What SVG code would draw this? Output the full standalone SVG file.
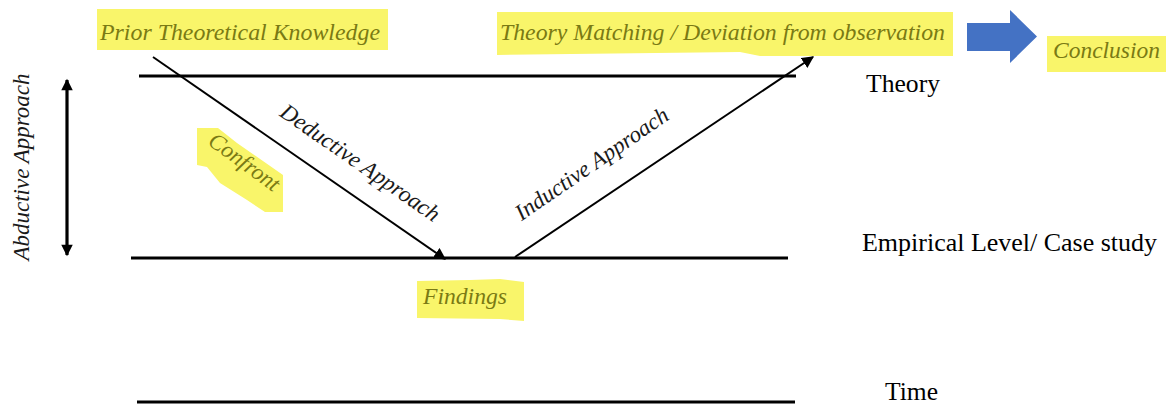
<svg xmlns="http://www.w3.org/2000/svg" width="1166" height="405" viewBox="0 0 1166 405">
<style>
.hl{fill:#f9f56a;}
.ol{font-family:"Liberation Serif",serif;font-style:italic;fill:#7a7a14;font-size:23px;}
.bk{font-family:"Liberation Serif",serif;font-style:italic;fill:#1a1a1a;font-size:23px;}
.rm{font-family:"Liberation Serif",serif;fill:#000;font-size:25px;}
.lvl{stroke:#000;stroke-width:3.2;fill:none;}
.diag{stroke:#000;stroke-width:2;fill:none;}
</style>
<defs>
<marker id="ah" viewBox="0 0 10 10" refX="9" refY="5" markerWidth="6" markerHeight="6" markerUnits="strokeWidth" orient="auto">
<path d="M0,0 L10,5 L0,10 z" fill="#000"/>
</marker>
<marker id="ah2" viewBox="0 0 10 10" refX="9" refY="5" markerWidth="4" markerHeight="3.6" markerUnits="strokeWidth" orient="auto-start-reverse">
<path d="M0,0 L10,5 L0,10 z" fill="#000"/>
</marker>
</defs>

<g id="connectors">
<line class="lvl" x1="139" y1="76" x2="796" y2="76"/>
<line class="lvl" x1="131" y1="258" x2="788" y2="258"/>
<line class="lvl" x1="137" y1="402" x2="795" y2="402"/>
<line class="diag" x1="153" y1="57" x2="445" y2="259" marker-end="url(#ah)"/>
<line class="diag" x1="515" y1="257" x2="813" y2="57" marker-end="url(#ah)"/>
<line class="lvl" x1="67" y1="80" x2="67" y2="255" marker-start="url(#ah2)" marker-end="url(#ah2)"/>
<path d="M967,23 L1010,23 L1010,10 L1037,36.5 L1010,63 L1010,51 L967,51 z" fill="#4472c4"/>
</g>

<g id="prior">
<rect class="hl" x="97" y="9" width="291" height="41"/>
<text class="ol" x="100" y="40" textLength="280" lengthAdjust="spacingAndGlyphs">Prior Theoretical Knowledge</text>
</g>

<g id="matching">
<path class="hl" d="M497,12 L953,12 L953,56 L760,56 L740,52 L497,55 z"/>
<text class="ol" x="500" y="40" textLength="445" lengthAdjust="spacingAndGlyphs">Theory Matching / Deviation from observation</text>
</g>

<g id="conclusion">
<rect class="hl" x="1047" y="36" width="119" height="36"/>
<text class="ol" x="1053" y="58" textLength="107" lengthAdjust="spacingAndGlyphs">Conclusion</text>
</g>

<g id="theory">
<text class="rm" x="866" y="92" textLength="74" lengthAdjust="spacingAndGlyphs">Theory</text>
</g>

<g id="empirical">
<text class="rm" x="862" y="251" textLength="295" lengthAdjust="spacingAndGlyphs">Empirical Level/ Case study</text>
</g>

<g id="time">
<text class="rm" x="885" y="400" textLength="53" lengthAdjust="spacingAndGlyphs">Time</text>
</g>

<g id="findings">
<path class="hl" d="M417,281 L470,280 L500,279 L524,282 L524,321 L500,319 L417,318 z"/>
<text class="ol" x="423" y="304" textLength="84" lengthAdjust="spacingAndGlyphs">Findings</text>
</g>

<g id="confront">
<path class="hl" d="M197,128 L218,128 L237,143 L283,175 L283,212 L265,212 L247,200 L220,183 L207,167 L197,165 z"/>
<text class="ol" transform="translate(240,168) rotate(36)" x="0" y="0" text-anchor="middle" font-size="22">Confront</text>
</g>

<g id="deductive">
<text class="bk" transform="translate(356,169) rotate(34.7)" x="0" y="0" text-anchor="middle">Deductive Approach</text>
</g>

<g id="inductive">
<text class="bk" transform="translate(596,170) rotate(-34.5)" x="0" y="0" text-anchor="middle">Inductive Approach</text>
</g>

<g id="abductive">
<text class="bk" transform="translate(29,167) rotate(-90)" x="0" y="0" text-anchor="middle">Abductive Approach</text>
</g>
</svg>
